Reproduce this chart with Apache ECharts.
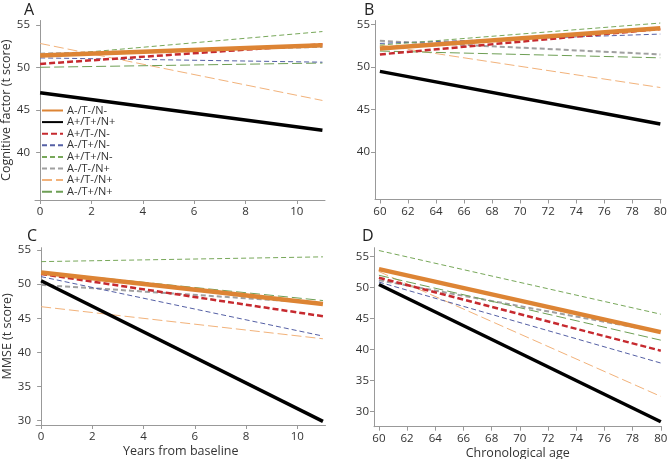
<!DOCTYPE html>
<html><head><meta charset="utf-8">
<script src="https://cdn.jsdelivr.net/npm/echarts@6/dist/echarts.min.js"></script>
<style>html,body{margin:0;padding:0;background:#fff}#c{width:667px;height:459px}</style>
</head><body><div id="c"></div>
<script>
const groups = ['A-/T-/N-','A+/T+/N+','A+/T-/N-','A-/T+/N-','A+/T+/N-','A-/T-/N+','A+/T-/N+','A-/T+/N+'];
const yearsX = [0, 11];
const ageX = [60, 80];
const cogYears  = [[51.4,52.6],[47.0,42.6],[50.4,52.7],[51.1,50.6],[51.3,54.2],[51.6,52.4],[52.8,46.1],[50.0,50.5]];
const cogAge    = [[52.2,54.6],[49.5,43.3],[51.5,54.5],[52.8,53.9],[52.6,55.2],[53.1,51.5],[52.6,47.6],[51.9,51.1]];
const mmseYears = [[51.7,47.1],[50.5,29.9],[51.5,45.3],[51.1,42.4],[53.3,54.0],[49.9,47.2],[46.7,42.0],[51.8,47.6]];
const mmseAge   = [[53.0,42.8],[50.5,28.3],[51.6,39.8],[50.9,37.8],[56.0,45.7],[51.2,42.8],[52.6,32.4],[52.0,41.5]];
const yearTicks = [0,2,4,6,8,10];
const ageTicks = [60,62,64,66,68,70,72,74,76,78,80];
const cogTicks = [40,45,50,55];
const mmseTicks = [30,35,40,45,50,55];

const styles = [
  {color:'#DD8434', width:4.5, type:'solid', z:10},
  {color:'#000000', width:3.5, type:'solid', z:9},
  {color:'#C62A2F', width:2.5, type:[6,3], z:8},
  {color:'#5560A5', width:1, type:[5,3], z:5},
  {color:'#78A85A', width:1, type:[5,3], z:5},
  {color:'#A0A0A0', width:2, type:[5,3], z:4},
  {color:'#F2B27A', width:1, type:[10,4], z:4},
  {color:'#6E9F55', width:1, type:[10,4], z:4}
];
const font = 'Open Sans';
const axisLine = {show:true, lineStyle:{color:'#999', width:1}};
function xAx(grid, min, max, ticks, name){
  return {type:'value', gridIndex:grid, min:min, max:max,
    axisLine:axisLine, splitLine:{show:false},
    axisTick:{show:true, length:4, customValues:ticks, lineStyle:{color:'#999'}},
    axisLabel:{customValues:ticks, color:'#333', fontSize:11.5, fontFamily:font, margin:6},
    name:name, nameLocation:'middle', nameGap:20,
    nameTextStyle:{color:'#333', fontSize:12.5, fontFamily:font}};
}
function yAx(grid, min, max, ticks, name){
  return {type:'value', gridIndex:grid, min:min, max:max,
    axisLine:axisLine, splitLine:{show:false},
    axisTick:{show:true, length:4, customValues:ticks, lineStyle:{color:'#999'}},
    axisLabel:{customValues:ticks, color:'#333', fontSize:11.5, fontFamily:font, margin:5},
    name:name, nameLocation:'middle', nameGap:19,
    nameTextStyle:{color:'#333', fontSize:12.5, fontFamily:font}};
}
const panels = [
  {x:yearsX, d:cogYears},
  {x:ageX, d:cogAge},
  {x:yearsX, d:mmseYears},
  {x:ageX, d:mmseAge}
];
const series = [];
panels.forEach((p, gi) => {
  groups.forEach((g, i) => {
    const s = styles[i];
    series.push({type:'line', name:g, xAxisIndex:gi, yAxisIndex:gi,
      data:p.x.map((xv, k) => [xv, p.d[i][k]]),
      symbol:'none', showSymbol:false, z:s.z, silent:true,
      lineStyle:{color:s.color, width:s.width, type:s.type, cap:'butt'},
      itemStyle:{color:s.color}});
  });
});
const gridBase = {outerBoundsMode:'none', containLabel:false};
const chart = echarts.init(document.getElementById('c'), null, {renderer:'canvas'});
chart.setOption({
  animation:false,
  backgroundColor:'#fff',
  title:[
    {text:'A', left:19, top:-3, textStyle:{fontSize:16, fontWeight:'normal', color:'#222', fontFamily:font}},
    {text:'B', left:359, top:-3, textStyle:{fontSize:16, fontWeight:'normal', color:'#222', fontFamily:font}},
    {text:'C', left:22, top:223, textStyle:{fontSize:16, fontWeight:'normal', color:'#222', fontFamily:font}},
    {text:'D', left:357, top:223, textStyle:{fontSize:16, fontWeight:'normal', color:'#222', fontFamily:font}}
  ],
  grid:[
    Object.assign({left:35, top:20.5, width:290, height:179.5}, gridBase),
    Object.assign({left:375, top:20.5, width:286, height:179}, gridBase),
    Object.assign({left:36, top:247.7, width:289.5, height:177.3}, gridBase),
    Object.assign({left:374, top:247.7, width:287.5, height:179}, gridBase)
  ],
  xAxis:[
    xAx(0, -0.2, 11.1, yearTicks, ''),
    xAx(1, 59.65, 80.05, ageTicks, ''),
    xAx(2, -0.2, 11.1, yearTicks, 'Years from baseline'),
    xAx(3, 59.65, 80.05, ageTicks, 'Chronological age')
  ],
  yAxis:[
    yAx(0, 34.4, 55.5, cogTicks, 'Cognitive factor (t score)'),
    yAx(1, 34.4, 55.5, cogTicks, ''),
    yAx(2, 29.37, 55.34, mmseTicks, 'MMSE (t score)'),
    yAx(3, 27.5, 56.46, mmseTicks, '')
  ],
  legend:{show:true, orient:'vertical', left:41, top:105, padding:0, itemWidth:21, itemHeight:8, itemGap:0.6,
    data:groups, selectedMode:false,
    itemStyle:{opacity:0},
    textStyle:{color:'#333', fontSize:11, fontFamily:font, padding:[0,0,0,-1]}},
  series:series
});
</script></body></html>
